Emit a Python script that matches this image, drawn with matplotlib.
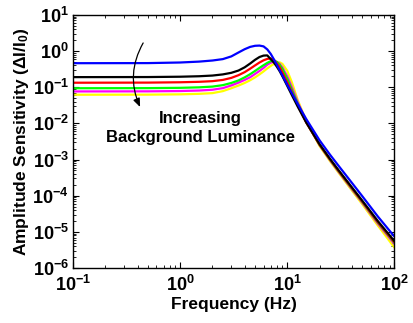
import matplotlib
matplotlib.use("Agg")
import matplotlib.pyplot as plt
from matplotlib.ticker import LogLocator, NullFormatter, LogFormatterMathtext

plt.rcParams["font.family"] = ["Liberation Sans", "DejaVu Sans"]
plt.rcParams["font.weight"] = "bold"
plt.rcParams["mathtext.fontset"] = "custom"
plt.rcParams["mathtext.rm"] = "Liberation Sans:bold"
plt.rcParams["mathtext.it"] = "Liberation Sans:bold"
plt.rcParams["mathtext.bf"] = "Liberation Sans:bold"
plt.rcParams["mathtext.sf"] = "Liberation Sans:bold"
plt.rcParams["mathtext.default"] = "bf"

# frequency grid (Hz), shared by all curves
freq = [0.1, 0.5, 1, 1.5, 2, 2.5, 3, 3.5, 4, 4.5, 5, 5.5, 6, 6.5, 7, 7.5, 8, 8.5, 9,
        10, 11, 12.5, 15, 20, 25, 30, 40, 50, 70, 100]

# amplitude sensitivity (dI/I0), dim -> bright background
amp_blue = [0.461, 0.464, 0.482, 0.510, 0.547, 0.598, 0.711, 0.911, 1.124, 1.302,
            1.396, 1.415, 1.344, 1.110, 0.834, 0.587, 0.414, 0.291, 0.212, 0.116,
            0.0694, 0.0345, 0.0133, 3.41e-3, 1.37e-3, 6.81e-4, 2.29e-4, 9.81e-5,
            2.67e-5, 7.43e-6]
amp_black = [0.190, 0.191, 0.195, 0.201, 0.210, 0.226, 0.250, 0.289, 0.355, 0.452,
             0.572, 0.684, 0.748, 0.758, 0.598, 0.479, 0.366, 0.275, 0.201, 0.108,
             0.0615, 0.0292, 0.0107, 2.66e-3, 1.05e-3, 5.14e-4, 1.72e-4, 7.37e-5,
             2.00e-5, 5.54e-6]
amp_red = [0.133, 0.134, 0.137, 0.141, 0.147, 0.159, 0.181, 0.215, 0.261, 0.325,
           0.401, 0.482, 0.554, 0.606, 0.626, 0.569, 0.455, 0.353, 0.256, 0.136,
           0.0740, 0.0313, 0.0106, 2.59e-3, 1.02e-3, 4.95e-4, 1.64e-4, 7.00e-5,
           1.88e-5, 5.20e-6]
amp_green = [0.0937, 0.0943, 0.0961, 0.0992, 0.104, 0.114, 0.131, 0.154, 0.187, 0.229,
             0.282, 0.342, 0.406, 0.470, 0.524, 0.544, 0.501, 0.414, 0.320, 0.170,
             0.0868, 0.0356, 0.0109, 2.56e-3, 9.98e-4, 4.83e-4, 1.59e-4, 6.78e-5,
             1.81e-5, 4.97e-6]
amp_magenta = [0.0764, 0.0769, 0.0784, 0.0809, 0.0852, 0.0943, 0.112, 0.134, 0.159, 0.189,
               0.233, 0.282, 0.342, 0.419, 0.476, 0.507, 0.501, 0.441, 0.353, 0.199,
               0.102, 0.0392, 0.0113, 2.53e-3, 9.72e-4, 4.67e-4, 1.53e-4, 6.48e-5,
               1.70e-5, 4.61e-6]
amp_yellow = [0.0619, 0.0623, 0.0635, 0.0656, 0.0686, 0.0779, 0.0937, 0.111, 0.131, 0.156,
              0.187, 0.226, 0.273, 0.331, 0.388, 0.441, 0.476, 0.485, 0.441, 0.282,
              0.140, 0.0445, 0.0117, 2.37e-3, 9.13e-4, 4.39e-4, 1.41e-4, 5.89e-5,
              1.50e-5, 3.69e-6]

# drawn brightest first so black and blue end up on top
curves = [
    (amp_yellow, "#ffff00"),
    (amp_magenta, "#ff00ff"),
    (amp_green, "#00ff00"),
    (amp_red, "#ff0000"),
    (amp_black, "#000000"),
    (amp_blue, "#0000ff"),
]

fig = plt.figure(figsize=(4.13, 3.23), dpi=100)
ax = fig.add_axes([0.177, 0.170, 0.778, 0.784])

for amp, col in curves:
    ax.loglog(freq, amp, color=col, lw=1.6, solid_capstyle="round",
              solid_joinstyle="round")

ax.set_xlim(0.1, 100)
ax.set_ylim(1e-6, 1e1)

ax.xaxis.set_major_locator(LogLocator(base=10, numticks=10))
ax.yaxis.set_major_locator(LogLocator(base=10, numticks=12))
ax.xaxis.set_minor_locator(LogLocator(base=10, subs=range(2, 10), numticks=100))
ax.yaxis.set_minor_locator(LogLocator(base=10, subs=range(2, 10), numticks=100))
ax.xaxis.set_minor_formatter(NullFormatter())
ax.yaxis.set_minor_formatter(NullFormatter())
ax.xaxis.set_major_formatter(LogFormatterMathtext())
ax.yaxis.set_major_formatter(LogFormatterMathtext())

ax.tick_params(which="both", direction="in", top=True, right=True, labelsize=13)
ax.tick_params(which="major", length=4, width=0.8)
ax.tick_params(which="minor", length=2, width=0.6)
ax.tick_params(axis="x", pad=5)
ax.tick_params(axis="y", pad=3)
for sp in ax.spines.values():
    sp.set_linewidth(1.0)

ax.set_xlabel("Frequency (Hz)", fontsize=12.5, fontweight="bold", labelpad=1)
ax.set_ylabel("Amplitude Sensitivity (\u0394I/I$_0$)", fontsize=12.5,
              fontweight="bold", labelpad=1)

ax.text(0.395, 0.553, "Increasing\nBackground Luminance", transform=ax.transAxes,
        ha="center", va="center", fontsize=12, fontweight="bold", linespacing=1.3)
ax.annotate("", xy=(0.2085, 0.636), xytext=(0.218, 0.889),
            xycoords="axes fraction", textcoords="axes fraction",
            arrowprops=dict(arrowstyle="-|>,head_length=0.5,head_width=0.2",
                            connectionstyle="arc3,rad=0.25", lw=0.9, color="black",
                            shrinkA=0, shrinkB=0))

fig.savefig("out.png", dpi=100)
